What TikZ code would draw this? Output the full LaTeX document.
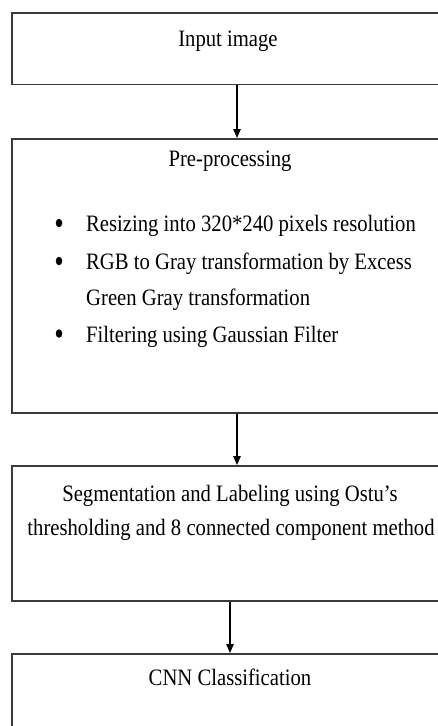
\documentclass[tikz,border=0pt]{standalone}
\usepackage{fontspec}
\setmainfont{Liberation Serif}[FakeStretch=0.88]
\usetikzlibrary{arrows.meta,shapes.geometric}
\definecolor{boxgray}{HTML}{3A3A3A}
\begin{document}
\begin{tikzpicture}[x=1pt,y=-1pt,
  stage/.style={rectangle, draw=boxgray, line width=1.5pt, anchor=north west,
    minimum width=440pt, inner sep=0pt},
  txt/.style={font=\fontsize{23.5}{28}\selectfont, inner sep=0pt, anchor=base},
  itemtxt/.style={txt, anchor=base west},
  dot/.style={ellipse, fill=black, inner sep=0pt, minimum width=6.5pt, minimum height=8.5pt},
  flow/.style={draw=black, line width=1.2pt, -{Triangle[length=9pt,width=7.5pt]}}]
  \useasboundingbox (0,0) rectangle (438,726);
  \clip (0,0) rectangle (438,726);

  % process stages
  \node[stage, minimum height=71.5pt] (in)  at (11,12)  {};
  \node[stage, minimum height=274pt]  (pre) at (11,138) {};
  \node[stage, minimum height=135pt]  (seg) at (11,465) {};
  \node[stage, minimum height=100pt]  (cnn) at (11,653) {};

  % stage texts
  \node[txt] (tin)  at (228,46)  {Input image};
  \node[txt] (tpre) at (230,166) {Pre-processing};

  \node[dot] (b1) at (59,223) {};
  \node[itemtxt] (i1) at (86,231.5) {Resizing into 320*240 pixels resolution};
  \node[dot] (b2) at (59,261) {};
  \node[itemtxt] (i2) at (86,269.5) {RGB to Gray transformation by Excess};
  \node[itemtxt] (i2b) at (86,305) {Green Gray transformation};
  \node[dot] (b3) at (59,333.5) {};
  \node[itemtxt] (i3) at (86,342) {Filtering using Gaussian Filter};

  \node[txt] (tseg1) at (230,501.5) {Segmentation and Labeling using Ostu’s};
  \node[txt] (tseg2) at (231,535)   {thresholding and 8 connected component method};

  \node[txt] (tcnn) at (230,685) {CNN Classification};

  % connectors
  \coordinate (ax1) at (237,0);
  \coordinate (ax2) at (237,0);
  \coordinate (ax3) at (230,0);
  \draw[flow] (in.south -| ax1)  -- (pre.north -| ax1);
  \draw[flow] (pre.south -| ax2) -- (seg.north -| ax2);
  \draw[flow] (seg.south -| ax3) -- (cnn.north -| ax3);
\end{tikzpicture}
\end{document}
